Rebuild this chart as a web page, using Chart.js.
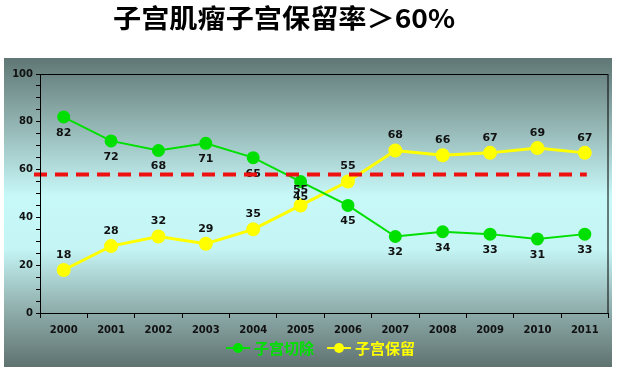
<!DOCTYPE html>
<html>
<head>
<meta charset="utf-8">
<script src="https://cdn.jsdelivr.net/npm/chart.js@4.4.1/dist/chart.umd.min.js"></script>
<style>
html,body{margin:0;padding:0;background:#fff}
</style>
</head>
<body>
<canvas id="c" width="617" height="371"></canvas>
<script>
// data
var years = ['2000','2001','2002','2003','2004','2005','2006','2007','2008','2009','2010','2011'];
var excision = [82,72,68,71,65,55,45,32,34,33,31,33];
var preserve = [18,28,32,29,35,45,55,68,66,67,69,67];
// the printed labels (2005 labels are swapped in the original)
var excisionLabels = ['82','72','68','71','65','45','45','32','34','33','31','33'];
var preserveLabels = ['18','28','32','29','35','55','55','68','66','67','69','67'];
var seriesNames = ['子宫切除','子宫保留'];
var seriesColors = ['#00e000','#ffff00'];
var targetLine = 58;
var titleText = '子宫肌瘤子宫保留率＞60%';

var tickFont = {family:'"DejaVu Sans", Verdana, sans-serif', size:10, weight:'bold'};

var decor = {
  id: 'decor',
  beforeDraw: function(chart) {
    var c = chart.ctx;
    c.save();
    c.fillStyle = '#fff';
    c.fillRect(0, 0, chart.width, chart.height);
    var g = c.createLinearGradient(0, 58, 0, 367);
    g.addColorStop(0, '#5f7775');
    g.addColorStop(0.2, '#8fb0ae');
    g.addColorStop(0.45, '#c8f9f9');
    g.addColorStop(0.62, '#c4f4f4');
    g.addColorStop(0.8, '#93b3b1');
    g.addColorStop(1, '#5f7270');
    c.fillStyle = g;
    c.fillRect(4, 58, 608, 309);
    // title
    c.fillStyle = '#000';
    c.font = 'bold 26px "Noto Sans CJK SC", sans-serif';
    c.textBaseline = 'middle';
    var w = c.measureText(titleText).width;
    c.translate(113, 18);
    c.scale(342 / w, 1);
    c.textAlign = 'left';
    c.fillText(titleText, 0, 0);
    c.restore();
  },
  afterDatasetsDraw: function(chart) {
    var c = chart.ctx;
    c.save();
    c.font = 'bold 11px "DejaVu Sans", Verdana, sans-serif';
    c.fillStyle = '#111';
    c.textAlign = 'center';
    c.textBaseline = 'middle';
    var m0 = chart.getDatasetMeta(0).data, m1 = chart.getDatasetMeta(1).data;
    m0.forEach(function(p, i) { c.fillText(excisionLabels[i], p.x, p.y + 16); });
    m1.forEach(function(p, i) { c.fillText(preserveLabels[i], p.x, p.y - 15); });
    c.restore();
  },
  afterDraw: function(chart) {
    var c = chart.ctx, a = chart.chartArea;
    var y = chart.scales.y.getPixelForValue(targetLine);
    var xEnd = chart.scales.x.getPixelForValue(years.length - 1);
    c.save();
    c.strokeStyle = '#ee1111';
    c.lineWidth = 4;
    c.setLineDash([13, 8]);
    c.beginPath();
    c.moveTo(a.left - 6, y);
    c.lineTo(xEnd + 2, y);
    c.stroke();
    c.setLineDash([]);
    c.strokeStyle = '#000';
    c.lineWidth = 1;
    c.strokeRect(a.left + 0.5, a.top + 0.5, a.right - a.left - 1, a.bottom - a.top);
    // legend
    var items = [[226, seriesNames[0], seriesColors[0]], [327, seriesNames[1], seriesColors[1]]];
    c.font = 'bold 15px "Noto Sans CJK SC", sans-serif';
    c.textBaseline = 'middle';
    c.textAlign = 'left';
    items.forEach(function(it) {
      var x = it[0], ly = 348;
      c.strokeStyle = it[2];
      c.fillStyle = it[2];
      c.lineWidth = 2;
      c.beginPath(); c.moveTo(x, ly); c.lineTo(x + 24, ly); c.stroke();
      c.beginPath(); c.arc(x + 12, ly, 5, 0, Math.PI * 2); c.fill();
      c.fillText(it[1], x + 28, ly);
    });
    c.restore();
  }
};

new Chart(document.getElementById('c'), {
  type: 'line',
  data: {
    labels: years,
    datasets: [
      {label: seriesNames[0], data: excision, borderColor: seriesColors[0], backgroundColor: seriesColors[0],
       borderWidth: 2, pointRadius: 5.5, pointHoverRadius: 5.5, tension: 0},
      {label: seriesNames[1], data: preserve, borderColor: seriesColors[1], backgroundColor: seriesColors[1],
       borderWidth: 3, pointRadius: 5.5, pointHoverRadius: 5.5, tension: 0}
    ]
  },
  options: {
    responsive: false,
    animation: false,
    events: [],
    layout: {padding: {top: 74, right: 5, bottom: 28, left: 0}},
    plugins: {legend: {display: false}, tooltip: {enabled: false}, title: {display: false}},
    scales: {
      x: {
        offset: true,
        grid: {offset: true, drawOnChartArea: false, color: '#000', tickLength: 5},
        border: {color: '#000'},
        ticks: {color: '#111', font: tickFont, padding: 6, maxRotation: 0},
        afterFit: function(s) { s.height = 30; }
      },
      y: {
        min: 0, max: 100,
        grid: {drawOnChartArea: false, color: '#000', tickLength: 4},
        border: {color: '#000'},
        ticks: {stepSize: 5, autoSkip: false, color: '#111', font: tickFont, padding: 3,
          callback: function(v) { return v % 20 === 0 ? v : ''; }},
        afterFit: function(s) { s.width = 40; }
      }
    }
  },
  plugins: [decor]
});
</script>
</body>
</html>
